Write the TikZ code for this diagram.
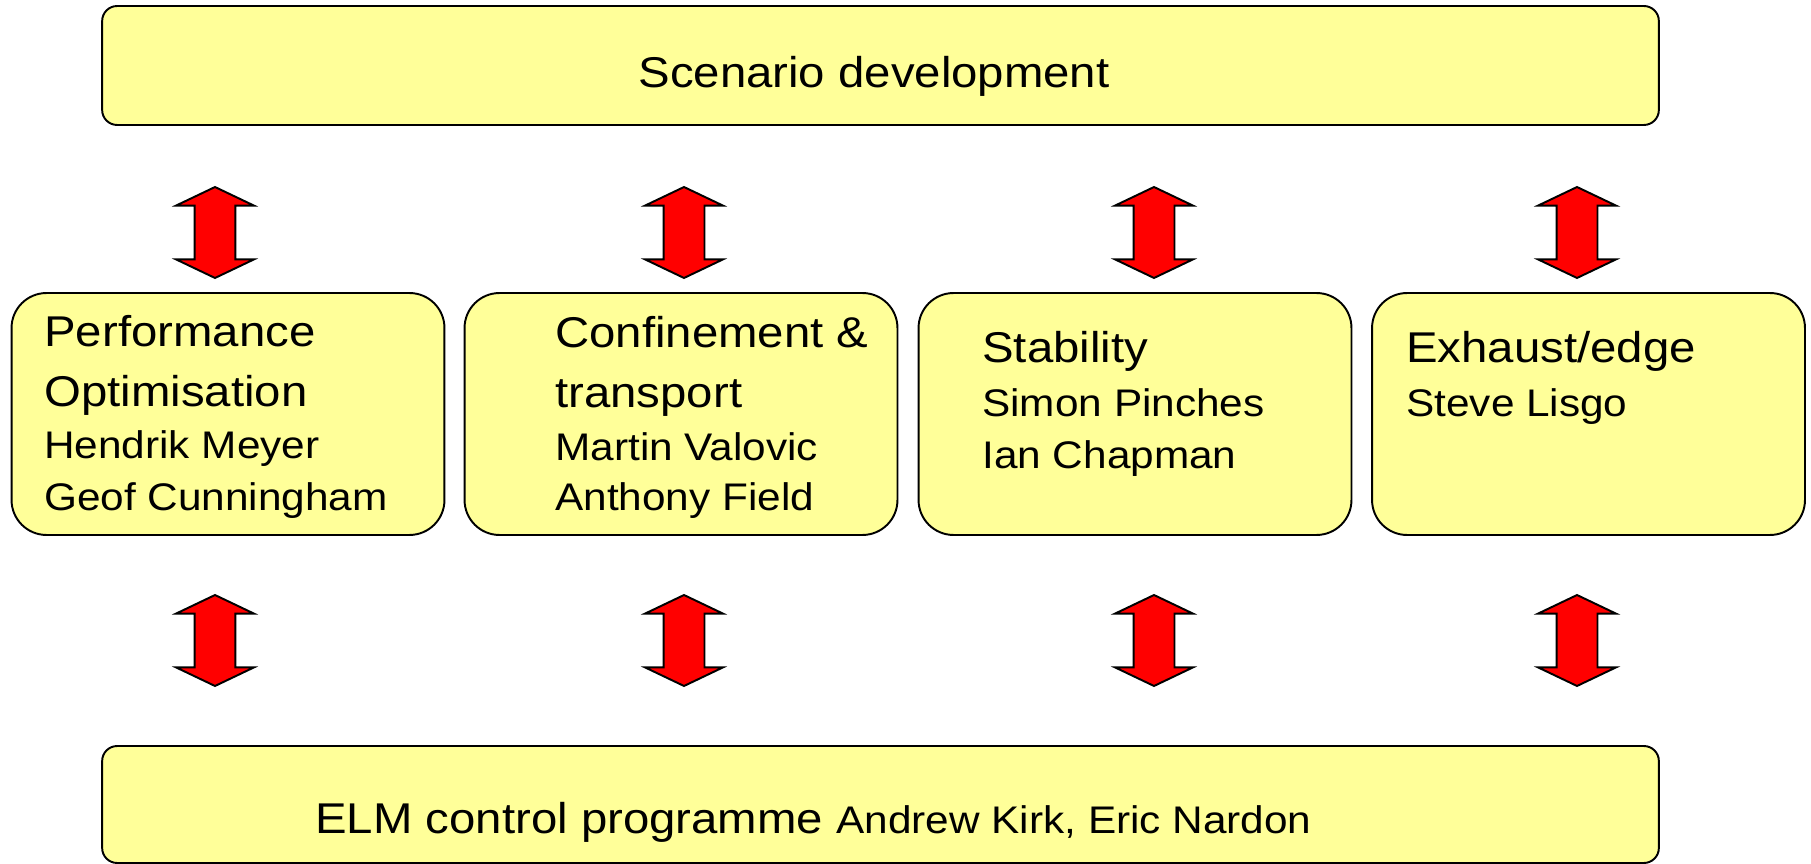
\documentclass[tikz,border=0pt]{standalone}
\usepackage{fontspec}
\setmainfont[FakeStretch=1.1]{Liberation Sans}
\usepackage{tikz}
\usetikzlibrary{shapes.arrows, positioning, calc}
\usepackage{xcolor}
\definecolor{panelfill}{HTML}{FFFF99}
\definecolor{arrowred}{HTML}{FF0000}

\newcommand{\headsize}{\fontsize{24.5}{29}\selectfont}
\newcommand{\namesize}{\fontsize{21.9}{26}\selectfont}

\begin{document}
\begin{tikzpicture}[
  x=0.02cm, y=-0.02cm,
  panel/.style 2 args={
    rectangle, rounded corners=#2,
    minimum width=#1, draw=black, fill=panelfill,
    line width=1.1pt, inner sep=0pt
  },
  headline/.style={font=\headsize, anchor=base west, inner sep=0pt},
  nameline/.style={font=\namesize, anchor=base west, inner sep=0pt},
  linkarrow/.style={
    double arrow, rotate=90, draw=black, fill=arrowred,
    line width=1.1pt, inner xsep=0pt, inner ysep=0.39cm,
    minimum height=1.82cm,
    double arrow head extend=0.37cm, double arrow tip angle=129
  }
]
  \useasboundingbox (0,0) rectangle (1811,864);

  % top and bottom bars
  \node[panel={31.14cm}{0.3cm}, minimum height=2.38cm] (scen) at (880.5,65.5) {};
  \node[panel={31.14cm}{0.3cm}, minimum height=2.34cm] (elm) at (880.5,804.5) {};
  \node[font=\headsize, anchor=base, inner sep=0pt] (scen-txt) at (874,88) {Scenario development};
  \node[font=\headsize, anchor=base west, inner sep=0pt] (elm-txt) at (315,833)
    {ELM control programme {\namesize Andrew Kirk, Eric Nardon}};

  % the four topic boxes
  \node[panel={8.66cm}{0.7cm}, minimum height=4.84cm] (perf) at (228,414) {};
  \node[panel={8.66cm}{0.7cm}, minimum height=4.84cm] (conf) at (681,414) {};
  \node[panel={8.66cm}{0.7cm}, minimum height=4.84cm] (stab) at (1135,414) {};
  \node[panel={8.66cm}{0.7cm}, minimum height=4.84cm] (exh) at (1588.5,414) {};

  \node[headline] (perf-1) at (44,347) {Performance};
  \node[headline] (perf-2) at (44,407) {Optimisation};
  \node[nameline] (perf-3) at (44,459) {Hendrik Meyer};
  \node[nameline] (perf-4) at (44,510) {Geof Cunningham};

  \node[headline] (conf-1) at (555,348) {Confinement \&};
  \node[headline] (conf-2) at (555,408) {transport};
  \node[nameline] (conf-3) at (555,460) {Martin Valovic};
  \node[nameline] (conf-4) at (555,510) {Anthony Field};

  \node[headline] (stab-1) at (982,363) {Stability};
  \node[nameline] (stab-2) at (982,417) {Simon Pinches};
  \node[nameline] (stab-3) at (982,468) {Ian Chapman};

  \node[headline] (exh-1) at (1406,363) {Exhaust/edge};
  \node[nameline] (exh-2) at (1406,417) {Steve Lisgo};

  % two-way links
  \node[linkarrow] (perf-up) at (215,232.5) {};
  \node[linkarrow] (conf-up) at (684,232.5) {};
  \node[linkarrow] (stab-up) at (1154,232.5) {};
  \node[linkarrow] (exh-up) at (1577,232.5) {};

  \node[linkarrow] (perf-dn) at (215,640.5) {};
  \node[linkarrow] (conf-dn) at (684,640.5) {};
  \node[linkarrow] (stab-dn) at (1154,640.5) {};
  \node[linkarrow] (exh-dn) at (1577,640.5) {};
\end{tikzpicture}
\end{document}
